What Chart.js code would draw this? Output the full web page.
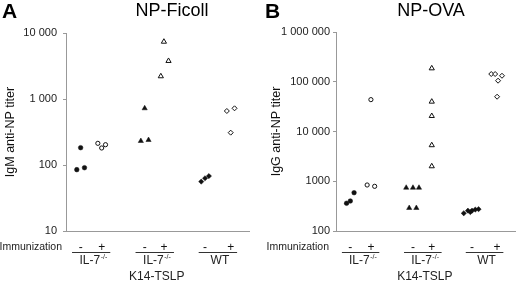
<!DOCTYPE html>
<html>
<head>
<meta charset="utf-8">
<script src="https://cdn.jsdelivr.net/npm/chart.js@4.4.1/dist/chart.umd.min.js"></script>
<style>
  body { margin: 0; background: #fff; }
  .wrap { display: flex; width: 520px; height: 283px; }
  .panel { position: relative; width: 260px; height: 283px; }
</style>
</head>
<body>
<div class="wrap">
  <div class="panel"><canvas id="ficoll" width="260" height="283"></canvas></div>
  <div class="panel"><canvas id="ova" width="260" height="283"></canvas></div>
</div>
<script>
// groups along the x axis
const immunization = ['-', '+', '-', '+', '-', '+'];
const strains = [['IL-7', '-/-'], ['IL-7', '-/-', 'K14-TSLP'], ['WT', '']];

// panel A, IgM anti-NP titer (NP-Ficoll)
const ficollIL7Neg = [85, 183, 91];
const ficollIL7Pos = [213, 181, 203];
const ficollTslpNeg = [723, 231, 239];
const ficollTslpPos = [7380, 3770, 2210];
const ficollWtNeg = [56, 63, 68];
const ficollWtPos = [658, 723, 309];
const ficollTicks = [10, 100, 1000, 10000];
const ficollTickLabels = ['10', '100', '1 000', '10 000'];

// panel B, IgG anti-NP titer (NP-OVA)
const ovaIL7Neg = [361, 401, 589];
const ovaIL7Pos = [841, 791, 43700];
const ovaTslpNeg = [740, 740, 740, 290, 290];
const ovaTslpPos = [186000, 39800, 20500, 5300, 2000];
const ovaWtNeg = [227, 256, 240, 256, 270, 275];
const ovaWtPos = [143000, 143000, 132000, 105000, 50000];
const ovaTicks = [100, 1000, 10000, 100000, 1000000];
const ovaTickLabels = ['100', '1000', '10 000', '100 000', '1 000 000'];

// horizontal spread of the dots inside a column (in dot widths)
const ficollJitter = [[-1, 0, 1], [-1, 0, 1], [0, -1, 1], [0, 1.2, -0.8], [-1, 0, 1], [-1, 1, 0]];
const ovaJitter = [[-1, 0, 1], [-1, 1, 0], [-1.8, 0, 1.6, -1, 0.9], [0, 0, 0, 0, 0],
  [-2.2, -1.1, -0.45, 0, 0.87, 1.74], [-1.56, -0.52, 1.3, 0.26, 0]];

const colPos = [0.8, 1.95, 4.3, 5.35, 7.6, 9.0];
const slot = 0.21;
const groupSpan = [[0.33, 2.42], [3.8, 5.9], [7.25, 9.35]];

const marks = [
  { style: 'circle', r: 2.3, open: false },
  { style: 'circle', r: 2.1, open: true },
  { style: 'triangle', r: 3, open: false },
  { style: 'triangle', r: 3, open: true },
  { style: 'rectRot', r: 2.6, open: false },
  { style: 'rectRot', r: 2.5, open: true }
];

function buildSets(groups, jitter) {
  return groups.map((vals, g) => ({
    data: vals.map((v, i) => ({ x: colPos[g] + jitter[g][i] * slot, y: v })),
    pointStyle: marks[g].style,
    pointRadius: marks[g].r,
    backgroundColor: marks[g].open ? '#fff' : '#111',
    borderColor: '#111',
    borderWidth: marks[g].open ? 1 : 0.5,
    showLine: false
  }));
}

const labelsPlugin = {
  id: 'labels',
  afterDraw(chart) {
    const o = chart.options.plugins.labels;
    const ctx = chart.ctx;
    const x = chart.scales.x;
    const area = chart.chartArea;
    ctx.save();
    ctx.fillStyle = '#000';
    ctx.textBaseline = 'middle';
    ctx.font = 'bold 21px Arial, "Liberation Sans", sans-serif';
    ctx.textAlign = 'left';
    ctx.fillText(o.letter, o.letterX, 12);
    ctx.font = '18px Arial, "Liberation Sans", sans-serif';
    ctx.textAlign = 'center';
    ctx.fillText(o.title, o.titleX, 11);
    ctx.font = '10.5px Arial, "Liberation Sans", sans-serif';
    ctx.textAlign = 'right';
    ctx.fillStyle = '#222';
    ctx.fillText('Immunization', area.left - o.immGap, 247);
    ctx.strokeStyle = '#333';
    ctx.lineWidth = 1;
    strains.forEach((s, i) => {
      const a = x.getPixelForValue(groupSpan[i][0]);
      const b = x.getPixelForValue(groupSpan[i][1]);
      ctx.beginPath();
      ctx.moveTo(a, 252.5);
      ctx.lineTo(b, 252.5);
      ctx.stroke();
      const c = (a + b) / 2;
      ctx.font = '12px Arial, "Liberation Sans", sans-serif';
      const w1 = ctx.measureText(s[0]).width;
      ctx.font = '7px Arial, "Liberation Sans", sans-serif';
      const w2 = ctx.measureText(s[1]).width;
      const start = c - (w1 + w2) / 2 + 2;
      ctx.textAlign = 'left';
      ctx.font = '12px Arial, "Liberation Sans", sans-serif';
      ctx.fillText(s[0], start, 261);
      ctx.font = '7px Arial, "Liberation Sans", sans-serif';
      ctx.fillText(s[1], start + w1 + 0.5, 257);
      if (s[2]) {
        ctx.font = '12px Arial, "Liberation Sans", sans-serif';
        ctx.textAlign = 'center';
        ctx.fillText(s[2], c + 2, 277);
      }
    });
    ctx.restore();
  }
};

function makeChart(id, groups, jitter, ticks, tickLabels, cfg) {
  return new Chart(document.getElementById(id), {
    type: 'scatter',
    data: { datasets: buildSets(groups, jitter) },
    plugins: [labelsPlugin],
    options: {
      responsive: false,
      animation: false,
      layout: { padding: { top: cfg.top, right: cfg.right, left: 0, bottom: 0 } },
      plugins: {
        legend: { display: false },
        tooltip: { enabled: false },
        labels: cfg
      },
      scales: {
        x: {
          type: 'linear', min: 0, max: 10,
          afterBuildTicks: s => { s.ticks = colPos.map(v => ({ value: v })); },
          afterFit: s => { s.height = 52; },
          grid: { display: false, drawTicks: false, tickLength: 0 },
          border: { color: '#999', width: 1 },
          ticks: {
            padding: 9, color: '#111',
            font: { size: 12, family: 'Arial, "Liberation Sans", sans-serif' },
            callback: (v, i) => immunization[i]
          }
        },
        y: {
          type: 'logarithmic', min: ticks[0], max: ticks[ticks.length - 1],
          afterBuildTicks: s => { s.ticks = ticks.map(v => ({ value: v })); },
          afterFit: s => { s.width = cfg.axisX; },
          grid: { drawOnChartArea: false, drawTicks: true, tickLength: 3, color: '#999' },
          border: { color: '#999', width: 1 },
          title: {
            display: true, text: cfg.yTitle, color: '#111',
            padding: { top: cfg.titlePad, bottom: 0 },
            font: { size: 12.5, family: 'Arial, "Liberation Sans", sans-serif' }
          },
          ticks: {
            padding: cfg.tickPad, color: '#222',
            font: { size: 11, family: 'Arial, "Liberation Sans", sans-serif' },
            callback: (v, i) => tickLabels[i]
          }
        }
      }
    }
  });
}

makeChart('ficoll',
  [ficollIL7Neg, ficollIL7Pos, ficollTslpNeg, ficollTslpPos, ficollWtNeg, ficollWtPos],
  ficollJitter, ficollTicks, ficollTickLabels,
  { letter: 'A', letterX: 2, title: 'NP-Ficoll', titleX: 172, top: 33, right: 11, axisX: 66,
    yTitle: 'IgM anti-NP titer', titlePad: 3, tickPad: 6, immGap: 4 });

makeChart('ova',
  [ovaIL7Neg, ovaIL7Pos, ovaTslpNeg, ovaTslpPos, ovaWtNeg, ovaWtPos],
  ovaJitter, ovaTicks, ovaTickLabels,
  { letter: 'B', letterX: 5, title: 'NP-OVA', titleX: 171, top: 32, right: 1, axisX: 76,
    yTitle: 'IgG anti-NP titer', titlePad: 9, tickPad: 3, immGap: 7 });
</script>
</body>
</html>
